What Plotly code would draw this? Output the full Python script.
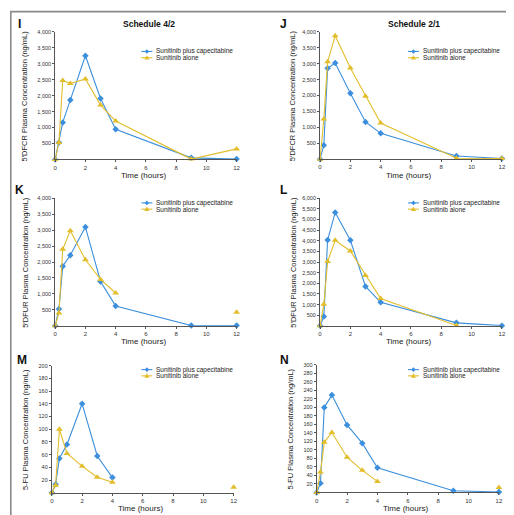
import plotly.graph_objects as go

W, H = 514, 515

times = [0, 0.25, 0.5, 1, 2, 3, 4, 9, 12]

i_combo = [0, 530, 1160, 1860, 3250, 1910, 945, 50, 10]
i_alone = [0, 530, 2475, 2380, 2525, 1705, 1205, 10, 330]
j_combo = [0, 440, 2855, 3020, 2070, 1170, 810, 100, 20]
j_alone = [0, 1260, 3060, 3875, 2865, 1980, 1135, 30, 20]
k_combo = [0, 530, 1870, 2215, 3095, 1390, 625, 10, 10]
k_alone = [0, 405, 2400, 2980, 2070, 1455, 1030, None, 425]
l_combo = [0, 435, 4035, 5330, 4020, 1855, 1105, 140, 10]
l_alone = [0, 1010, 3020, 4020, 3520, 2370, 1280, 20, None]
m_combo = [0, 13.5, 54, 76, 140, 58, 24, None, None]
m_alone = [0, 12, 100, 62, 42, 24.5, 16.7, None, 9]
n_combo = [0, 22, 200, 229, 159, 116, 58, 4, 1]
n_alone = [0, 48, 118, 141, 83, 52, 26, None, 12]

series_names = ["Sunitinib plus capecitabine", "Sunitinib alone"]
panel_letters = ["I", "J", "K", "L", "M", "N"]
titles = {"I": "Schedule 4/2", "J": "Schedule 2/1"}
y_titles = ["5\u2032DFCR Plasma Concentration (ng/mL)"] * 2 + \
           ["5\u2032DFUR Plasma Concentration (ng/mL)"] * 2 + \
           ["5-FU Plasma Concentration (ng/mL)"] * 2
x_title = "Time (hours)"
x_ticks = [0, 2, 4, 6, 8, 10, 12]
y_ranges = [4000, 4000, 4000, 6000, 200, 300]
y_steps = [500, 500, 500, 500, 20, 20]
data = [(i_combo, i_alone), (j_combo, j_alone), (k_combo, k_alone),
        (l_combo, l_alone), (m_combo, m_alone), (n_combo, n_alone)]

BLUE = "#3b8fdc"
YELLOW = "#e2be2c"
AX = "#555555"
FONT = "Liberation Sans"

# pixel layout: (x0, x1, ytop, ybottom) of plot area
boxes = [
    (45.7, 229.3, 21.0, 149.3),
    (313.7, 497.7, 21.0, 149.0),
    (45.7, 229.3, 188.3, 316.7),
    (313.7, 497.7, 188.3, 316.7),
    (42.3, 226.3, 356.7, 484.7),
    (310.3, 494.7, 356.0, 484.3),
]
letter_pos = [(10, 13), (277, 13), (10, 180), (277, 180), (12, 351), (278, 351)]
ytitle_x = [15, 286, 15, 286, 15, 284]
legend_pos = [(133, 40.7), (402.7, 40.7), (133, 193), (402.7, 193), (133, 360.7), (402.7, 360.7)]

def px(x):
    return x / W

def py(y):
    return 1 - y / H

fig = go.Figure()
layout = {}
annotations = []
shapes = []

for idx, ((c, a), (x0, x1, yt, yb)) in enumerate(zip(data, boxes)):
    n = idx + 1
    xa = "x" if n == 1 else f"x{n}"
    ya = "y" if n == 1 else f"y{n}"
    fig.add_trace(go.Scatter(x=times, y=c, xaxis=xa, yaxis=ya, mode="lines+markers",
                             name=series_names[0], showlegend=False, cliponaxis=False,
                             connectgaps=False,
                             line=dict(color=BLUE, width=1.1),
                             marker=dict(symbol="diamond", size=5, color=BLUE)))
    fig.add_trace(go.Scatter(x=times, y=a, xaxis=xa, yaxis=ya, mode="lines+markers",
                             name=series_names[1], showlegend=False, cliponaxis=False,
                             connectgaps=False,
                             line=dict(color=YELLOW, width=1.1),
                             marker=dict(symbol="triangle-up", size=6, color=YELLOW)))
    ymax = y_ranges[idx]
    step = y_steps[idx]
    yvals = list(range(step, ymax + 1, step))
    layout["xaxis" if n == 1 else f"xaxis{n}"] = dict(
        domain=[px(x0), px(x1)], anchor=ya, range=[0, 12], tickvals=x_ticks,
        showline=True, linecolor=AX, linewidth=1, ticks="outside", ticklen=2,
        tickcolor=AX, showgrid=False, zeroline=False,
        tickfont=dict(family=FONT, size=6, color="#333"))
    layout["yaxis" if n == 1 else f"yaxis{n}"] = dict(
        domain=[py(yb), py(yt)], anchor=xa, range=[0, ymax], tickvals=yvals,
        tickformat=",d", showline=True, linecolor=AX, linewidth=1, ticks="outside",
        ticklen=2, tickcolor=AX, showgrid=False, zeroline=False,
        tickfont=dict(family=FONT, size=5.5, color="#333"))
    # axis titles
    annotations.append(dict(text=x_title, xref="paper", yref="paper",
                            x=px((x0 + x1) / 2 - 2), y=py(yb + 16), showarrow=False,
                            xanchor="center", yanchor="middle",
                            font=dict(family=FONT, size=8, color="#222")))
    annotations.append(dict(text=y_titles[idx], xref="paper", yref="paper",
                            x=px(ytitle_x[idx]), y=py((yt + yb) / 2), showarrow=False,
                            textangle=-90, xanchor="center", yanchor="middle",
                            font=dict(family=FONT, size=7.5, color="#222")))
    # panel letter
    lx, ly = letter_pos[idx]
    annotations.append(dict(text=f"<b>{panel_letters[idx]}</b>", xref="paper", yref="paper",
                            x=px(lx), y=py(ly), showarrow=False, xanchor="center",
                            yanchor="middle", font=dict(family=FONT, size=12, color="#111")))
    if panel_letters[idx] in titles:
        annotations.append(dict(text=f"<b>{titles[panel_letters[idx]]}</b>", xref="paper",
                                yref="paper", x=px((x0 + x1) / 2 + 3), y=py(13.5),
                                showarrow=False, xanchor="center", yanchor="middle",
                                font=dict(family=FONT, size=8.5, color="#111")))
    # legend
    gx, gy = legend_pos[idx]
    for k, (col, name) in enumerate([(BLUE, series_names[0]), (YELLOW, series_names[1])]):
        yy = gy + k * 6.3
        shapes.append(dict(type="line", xref="paper", yref="paper",
                           x0=px(gx), x1=px(gx + 11), y0=py(yy), y1=py(yy),
                           line=dict(color=col, width=1.1)))
        cx = gx + 5.5
        if k == 0:
            path = (f"M {px(cx)},{py(yy-2.3)} L {px(cx+2.3)},{py(yy)} "
                    f"L {px(cx)},{py(yy+2.3)} L {px(cx-2.3)},{py(yy)} Z")
        else:
            path = (f"M {px(cx)},{py(yy-2.6)} L {px(cx+2.6)},{py(yy+1.8)} "
                    f"L {px(cx-2.6)},{py(yy+1.8)} Z")
        shapes.append(dict(type="path", xref="paper", yref="paper", path=path,
                           fillcolor=col, line=dict(color=col, width=0)))
        annotations.append(dict(text=name, xref="paper", yref="paper",
                                x=px(gx + 13), y=py(yy), showarrow=False,
                                xanchor="left", yanchor="middle",
                                font=dict(family=FONT, size=6.5, color="#222")))

# outer frame
shapes.append(dict(type="rect", xref="paper", yref="paper",
                   x0=px(0.8), x1=px(511.8), y0=py(511.8), y1=py(0.6),
                   line=dict(color="#8a8a8a", width=1.6)))

fig.update_layout(width=W, height=H, margin=dict(l=0, r=0, t=0, b=0),
                  paper_bgcolor="white", plot_bgcolor="white", showlegend=False,
                  annotations=annotations, shapes=shapes,
                  font=dict(family=FONT), **layout)

fig.write_html("out.html")
